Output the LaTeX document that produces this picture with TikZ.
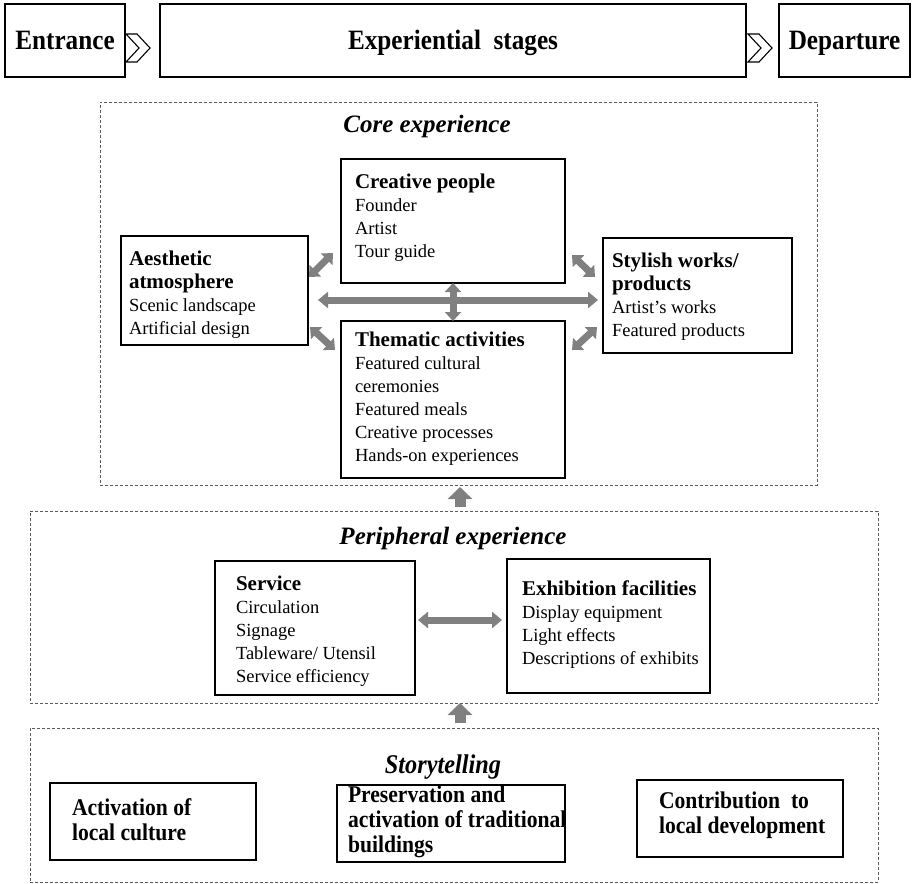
\documentclass[tikz,border=0pt]{standalone}
\usepackage{fontspec}
\setmainfont{Liberation Serif}
\newfontfamily\condfont{Liberation Serif}[FakeStretch=0.9]
\usetikzlibrary{arrows.meta,calc}

\definecolor{arrgray}{RGB}{128,128,128}
\definecolor{dashgray}{RGB}{90,90,90}

\newcommand{\bodysize}{\fontsize{18.5}{23}\selectfont}
\newcommand{\headsize}{\fontsize{21}{23}\selectfont\bfseries}
\newcommand{\storysize}{\fontsize{24}{25}\selectfont\condfont\bfseries}
% text block of fixed size: width, height, top padding, lines
\newcommand{\boxtext}[4]{\parbox[t][#2][t]{#1}{\vspace*{#3}\raggedright #4}}

\tikzset{
  x=1pt, y=-1pt,
  cbox/.style={draw, line width=1.3pt, anchor=north west, inner ysep=0pt,
    inner xsep=#1, outer sep=0pt, fill=white},
  stagebox/.style={draw, line width=1.4pt, anchor=north west, inner sep=0pt,
    outer sep=0pt, text height=22pt, text depth=4pt,
    font=\fontsize{28}{30}\selectfont\condfont\bfseries},
  zone/.style={draw=dashgray, line width=0.8pt, dash pattern=on 3pt off 2pt,
    anchor=north west, inner sep=0pt, outer sep=0pt},
  zonetitle/.style={anchor=base, inner sep=0pt,
    font=\fontsize{25}{27}\selectfont\bfseries\itshape},
  chevron/.style={draw, line width=1.1pt, fill=white, line join=miter},
  garrow/.style={draw=arrgray, line width=7pt,
    {Triangle[width=16pt,length=9pt]}-{Triangle[width=16pt,length=9pt]}},
  harrow/.style={draw=arrgray, line width=7pt,
    {Triangle[width=16pt,length=10pt]}-{Triangle[width=16pt,length=10pt]}},
  uparrow/.style={draw=arrgray, line width=11pt,
    -{Triangle[width=24pt,length=12pt]}},
}

\begin{document}
\begin{tikzpicture}
\useasboundingbox (0,0) rectangle (912,883);

% ---- stage bar ----
\node[stagebox, minimum width=120pt, minimum height=73pt] (ent) at (5,4) {Entrance};
\node[stagebox, minimum width=586pt, minimum height=73pt] (stages) at (160,4) {Experiential\ \ stages};
\node[stagebox, minimum width=131pt, minimum height=73pt] (dep) at (779,4) {Departure};
\draw[chevron] (126,34) -- (137,34) -- (150,48) -- (137,62) -- (126,62) -- (139,48) -- cycle;
\draw[chevron] (748,34) -- (759,34) -- (772,48) -- (759,62) -- (748,62) -- (761,48) -- cycle;

% ---- zones ----
\node[zone, minimum width=717pt, minimum height=383pt] (core) at (100,102) {};
\node[zone, minimum width=848pt, minimum height=192pt] (periph) at (30,511) {};
\node[zone, minimum width=848pt, minimum height=154pt] (story) at (30,728) {};

\node[zonetitle] (coret) at (427,132) {Core experience};
\node[zonetitle] (perit) at (453,544) {Peripheral experience};
\node[zonetitle, font=\fontsize{27}{29}\selectfont\condfont\bfseries\itshape] (storyt) at (443,773) {Storytelling};

% ---- core experience ----
\node[cbox=14pt] (cre) at (341,159) {\boxtext{196pt}{124pt}{14.5pt}{\bodysize
  {\headsize Creative people}\\ Founder\\ Artist\\ Tour guide}};
\node[cbox=8pt] (aes) at (121,236) {\boxtext{171pt}{109pt}{14.5pt}{\bodysize
  {\headsize Aesthetic}\\ {\headsize atmosphere}\\ Scenic landscape\\ Artificial\ design}};
\node[cbox=9pt] (sty) at (603,238) {\boxtext{171pt}{115pt}{14.5pt}{\bodysize
  {\headsize \mbox{Stylish\ works/}}\\ {\headsize products}\\ Artist’s works\\ Featured products}};
\node[cbox=14pt] (them) at (341,321) {\boxtext{196pt}{157pt}{10.5pt}{\bodysize
  {\headsize \mbox{Thematic activities}}\\ Featured cultural\\ ceremonies\\ Featured meals\\
  Creative processes\\ \mbox{Hands-on experiences}}};

% links inside the core
\draw[garrow] ($(aes.north east)+(1,41)$) -- ($(cre.south west)+(-8,-30)$);
\draw[garrow] ($(cre.south east)+(7,-28)$) -- ($(sty.north west)+(-8,39)$);
\draw[garrow] ($(aes.south east)+(2,-18)$) -- ($(them.north west)+(-6,29)$);
\draw[garrow] ($(them.north east)+(7,29)$) -- ($(sty.south west)+(-6,-26)$);
\draw[harrow] ($(aes.east)+(10,9.5)$) -- ($(sty.west)+(-5,4.5)$);
\draw[garrow] (cre.south) -- (them.north);

% ---- peripheral experience ----
\node[cbox=21pt] (serv) at (215,561) {\boxtext{158pt}{134pt}{14.5pt}{\bodysize
  {\headsize Service}\\ Circulation\\ Signage\\ \mbox{Tableware/ Utensil}\\ \mbox{Service efficiency}}};
\node[cbox=15pt] (exhib) at (507,559) {\boxtext{173pt}{134pt}{21.5pt}{\bodysize
  {\headsize \mbox{Exhibition\ facilities}}\\ \mbox{Display equipment}\\ Light effects\\ \mbox{Descriptions of exhibits}}};
\draw[harrow] ($(serv.east)+(3,-8)$) -- ($(exhib.west)+(-5,-6)$);

% ---- storytelling ----
\node[cbox=22pt] (act) at (50,783) {\boxtext{162pt}{77pt}{15.5pt}{\storysize
  \mbox{Activation of}\\ \mbox{local culture}}};
\node[cbox=11pt] (pres) at (337,785) {\boxtext{206pt}{77pt}{1pt}{\storysize
  \mbox{Preservation and}\\ \mbox{activation of traditional}\\ buildings}};
\node[cbox=22pt] (contr) at (637,780) {\boxtext{162pt}{77pt}{11.5pt}{\storysize
  \mbox{Contribution\ \ to}\\ \mbox{local development}}};

% ---- flow between zones ----
\draw[uparrow] ($(periph.north)+(6,-4)$) -- ($(core.south)+(1.5,2)$);
\draw[uparrow] ($(story.north)+(6,-5)$) -- ($(periph.south)+(6,0)$);
\end{tikzpicture}
\end{document}
